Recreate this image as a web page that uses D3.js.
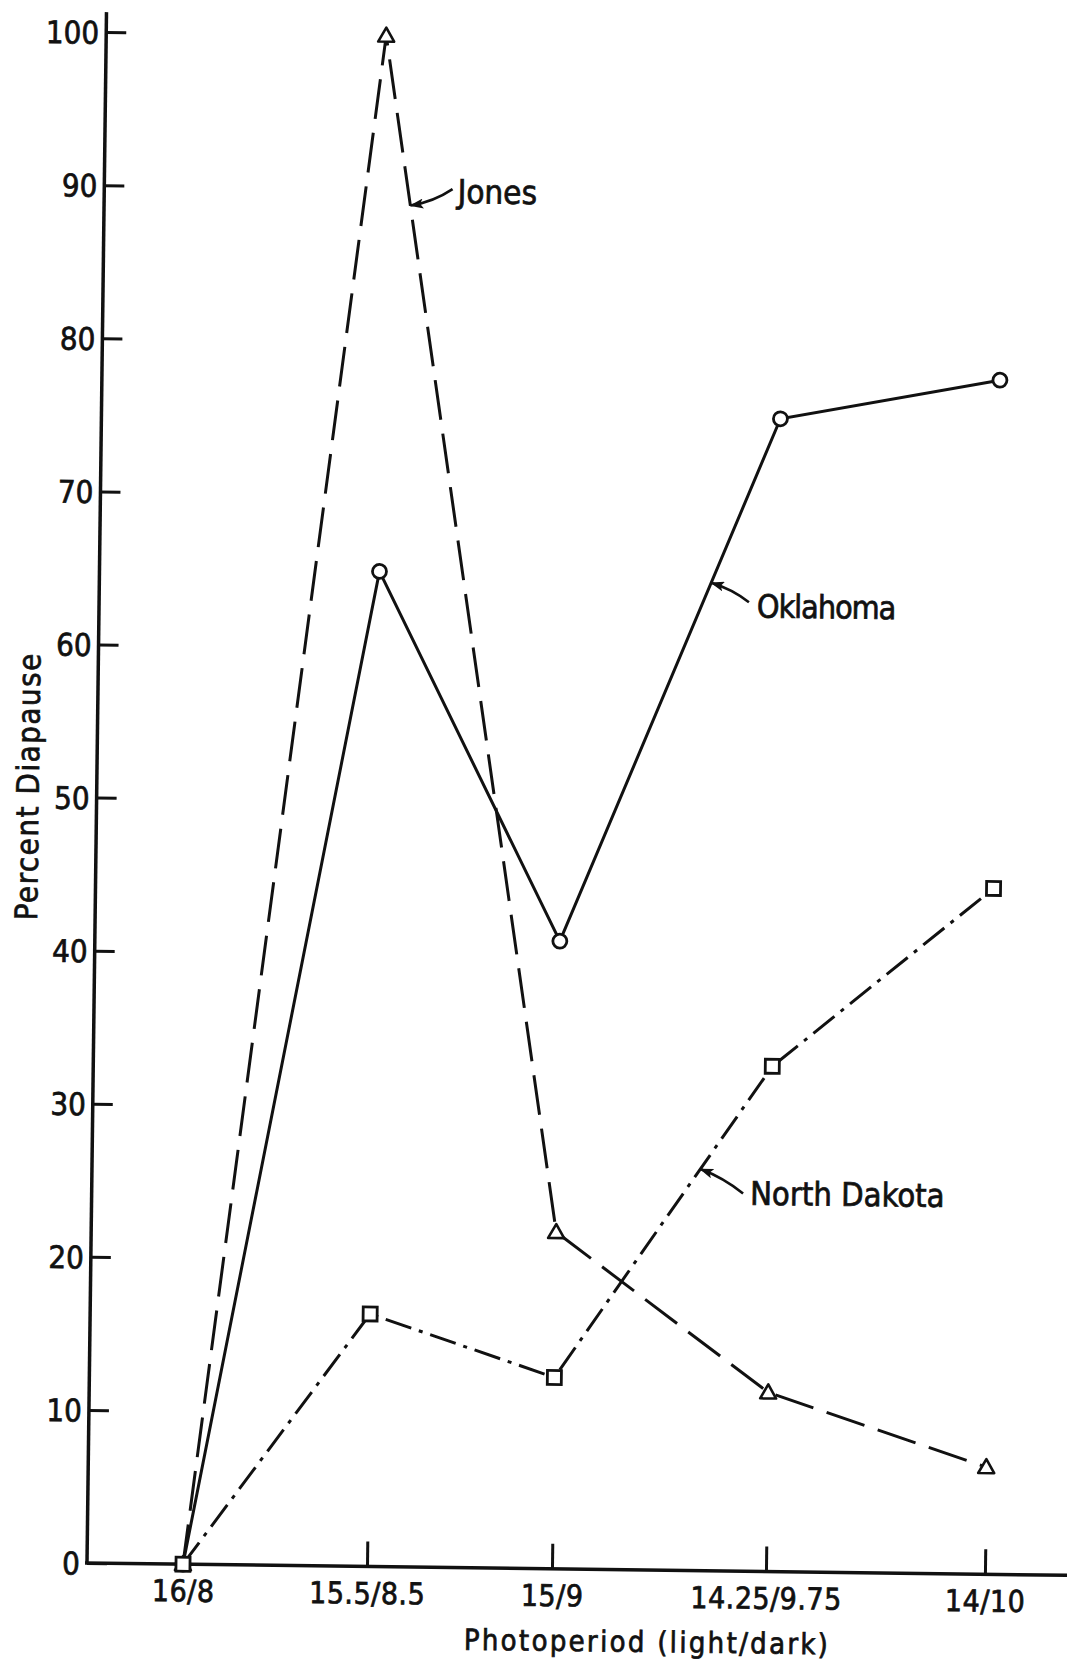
<!DOCTYPE html>
<html><head><meta charset="utf-8">
<script src="https://cdn.jsdelivr.net/npm/d3@7"></script>
<style>
body{margin:0;background:#fff}
text{font-family:"Liberation Sans Narrow","DejaVu Sans Condensed","Liberation Sans",sans-serif;fill:#111;stroke:#111;stroke-width:0.7px}
</style>
</head><body>
<svg id="chart" width="1067" height="1665"></svg>
<script>
// ---- data ----
const categories = ["16/8", "15.5/8.5", "15/9", "14.25/9.75", "14/10"];
const jones = [0, 100, 22, 11.7, 7];
const oklahoma = [0, 65, 41, 75.3, 78];
const northDakota = [0, 16.5, 12.5, 33, 44.8];
const yTicks = [0, 10, 20, 30, 40, 50, 60, 70, 80, 90, 100];
const xTitle = "Photoperiod (light/dark)";
const yTitle = "Percent Diapause";

// ---- layout ----
const W = 1067, H = 1665;
const origin = [87, 1563];
const xStops = [183, 367, 552, 766, 985];
const tilt = 0.72;

const svg = d3.select("#chart");
svg.append("rect").attr("width", W).attr("height", H).attr("fill", "#fff");
const g = svg.append("g").attr("transform", `rotate(${tilt},${origin[0]},${origin[1]})`);

const x = d3.scaleOrdinal().domain(categories).range(xStops);
const y = d3.scaleLinear().domain([0, 100]).range([origin[1], 32]);

// axes
const yAxis = d3.axisLeft(y).tickValues(yTicks).tickSize(-20).tickPadding(7);
const gy = g.append("g").attr("transform", `translate(${origin[0]},0)`).call(yAxis);
gy.attr("font-family", null);
gy.select(".domain").remove();
gy.selectAll(".tick line").attr("stroke", "#111").attr("stroke-width", 3);
gy.selectAll(".tick text").attr("font-size", 31).attr("fill", "#111").attr("dy", "0.36em");

const xAxis = d3.axisBottom(x).tickSize(-25).tickPadding(16);
const gx = g.append("g").attr("transform", `translate(0,${origin[1]})`).call(xAxis);
gx.attr("font-family", null);
gx.select(".domain").remove();
gx.selectAll(".tick line").attr("stroke", "#111").attr("stroke-width", 3)
  .attr("opacity", (d, i) => i === 0 ? 0 : 1);
gx.selectAll(".tick text").attr("font-size", 30).attr("letter-spacing", 0.5).attr("fill", "#111");

g.append("line").attr("x1", origin[0]).attr("x2", origin[0]).attr("y1", origin[1] + 1).attr("y2", 12)
  .attr("stroke", "#111").attr("stroke-width", 3.5);
g.append("line").attr("x1", origin[0] - 2).attr("x2", 1085).attr("y1", origin[1]).attr("y2", origin[1])
  .attr("stroke", "#111").attr("stroke-width", 3.5);

// titles
g.append("text").attr("x", 648).attr("y", 1645).attr("text-anchor", "middle")
  .attr("font-size", 29).attr("letter-spacing", 2.3).text(xTitle);
g.append("text").attr("transform", "translate(29,787) rotate(-90)").attr("text-anchor", "middle")
  .attr("font-size", 31).attr("letter-spacing", 1.5).text(yTitle);

// series lines
const line = d3.line().x((d, i) => x(categories[i])).y(d => y(d));
const seriesDefs = [
  {name: "Jones", values: jones, dash: "40,14", marker: "triangle"},
  {name: "Oklahoma", values: oklahoma, dash: null, marker: "circle"},
  {name: "North Dakota", values: northDakota, dash: "27,8,4,8", marker: "square"}
];
seriesDefs.forEach(s => {
  g.append("path").attr("d", line(s.values)).attr("fill", "none").attr("stroke", "#111")
    .attr("stroke-width", 3).attr("stroke-dasharray", s.dash);
});
seriesDefs.forEach(s => {
  const mg = g.append("g");
  s.values.forEach((v, i) => {
    const cx = x(categories[i]), cy = y(v);
    if (s.marker === "circle") {
      mg.append("circle").attr("cx", cx).attr("cy", cy).attr("r", 7)
        .attr("fill", "#fff").attr("stroke", "#111").attr("stroke-width", 2.8);
    } else if (s.marker === "square") {
      mg.append("rect").attr("x", cx - 7).attr("y", cy - 7).attr("width", 14).attr("height", 14)
        .attr("fill", "#fff").attr("stroke", "#111").attr("stroke-width", 2.8);
    } else {
      mg.append("path").attr("d", `M${cx},${cy - 8}L${cx + 8},${cy + 6}L${cx - 8},${cy + 6}Z`)
        .attr("fill", "#fff").attr("stroke", "#111").attr("stroke-width", 2.6).attr("stroke-linejoin", "round");
    }
  });
});

// annotations
svg.append("defs").append("marker").attr("id", "ah").attr("markerUnits", "userSpaceOnUse")
  .attr("viewBox", "0 0 14 10").attr("refX", 13).attr("refY", 5)
  .attr("markerWidth", 14).attr("markerHeight", 10).attr("orient", "auto")
  .append("path").attr("d", "M0,0L14,5L0,10L3,5Z").attr("fill", "#111");

function along(vals, i, t) {
  const x0 = x(categories[i]), x1 = x(categories[i + 1]);
  const y0 = y(vals[i]), y1 = y(vals[i + 1]);
  return [x0 + (x1 - x0) * t, y0 + (y1 - y0) * t];
}
const notes = [
  {label: "Jones", vals: jones, seg: 1, t: 0.142, tail: [42, -17], text: [47, -3], bend: -5, size: 33, ls: 0},
  {label: "Oklahoma", vals: oklahoma, seg: 2, t: 0.686, tail: [38, 19], text: [46, 34], bend: 4, size: 32, ls: -1},
  {label: "North Dakota", vals: northDakota, seg: 2, t: 0.67, tail: [43, 24], text: [50, 35], bend: 4, size: 32.5, ls: 0}
];
notes.forEach(n => {
  const [tx, ty] = along(n.vals, n.seg, n.t);
  const sx = tx + n.tail[0], sy = ty + n.tail[1];
  const mx = (sx + tx) / 2, my = (sy + ty) / 2;
  const dx = tx - sx, dy = ty - sy, len = Math.hypot(dx, dy);
  const cx = mx - dy / len * n.bend, cy = my + dx / len * n.bend;
  g.append("path").attr("d", `M${sx},${sy}Q${cx},${cy} ${tx},${ty}`).attr("fill", "none")
    .attr("stroke", "#111").attr("stroke-width", 2.6).attr("marker-end", "url(#ah)");
  g.append("text").attr("x", tx + n.text[0]).attr("y", ty + n.text[1]).attr("font-size", n.size)
    .attr("letter-spacing", n.ls).text(n.label);
});
</script>
</body></html>
